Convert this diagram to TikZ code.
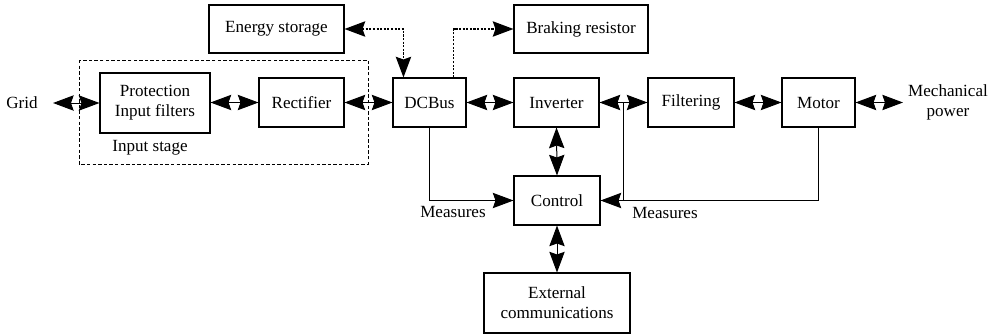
\documentclass[tikz,border=0pt]{standalone}
\usepackage{fontspec}
\setmainfont{Liberation Serif}
\newfontfamily\tnr{Liberation Serif}
\usetikzlibrary{arrows.meta,calc}
\begin{document}
\begin{tikzpicture}[x=0.75pt,y=-0.75pt,
  every node/.style={font=\tnr\fontsize{12.8}{15}\selectfont},
  box/.style={draw,line width=0.8pt,inner sep=0pt,align=center},
  conn/.style={line width=0.75pt},
  both/.style={arrows={Stealth[length=15.5pt,width=11.5pt,inset=2pt]-Stealth[length=15.5pt,width=11.5pt,inset=2pt]}},
  fwd/.style={arrows={-Stealth[length=15.5pt,width=11.5pt,inset=2pt]}},
  dotline/.style={line width=1.1pt,dash pattern=on 1.6pt off 1.1pt},
  dashbox/.style={line width=0.6pt,dash pattern=on 2.6pt off 1.6pt}]
\useasboundingbox (0,0) rectangle (1008,336);
% dashed input stage
\draw[dashbox] (79,60) rectangle (368,164);
\node at (150,148) {Input stage};
% boxes
\node[box,minimum width=101.25pt,minimum height=36pt] (es) at (276.5,29) {Energy storage};
\node[box,minimum width=100.5pt,minimum height=36pt] (br) at (581,29) {Braking resistor};
\node[box,minimum width=82.5pt,minimum height=45pt] (pr) at (155,103) {Protection\\Input filters};
\node[box,minimum width=63.75pt,minimum height=36.75pt] (re) at (301.5,102.5) {Rectifier};
\node[box,minimum width=54.75pt,minimum height=36.75pt] (dc) at (429.5,102.5) {DCBus};
\node[box,minimum width=63.75pt,minimum height=36.75pt] (in) at (556.5,102.5) {Inverter};
\node[box,minimum width=64.5pt,minimum height=36.75pt] (fi) at (691,102.5) {Filtering};
\node[box,minimum width=54.75pt,minimum height=36.75pt] (mo) at (818.5,102.5) {Motor};
\node[box,minimum width=64.5pt,minimum height=36.75pt] (co) at (557,200.5) {Control};
\node[box,minimum width=109.5pt,minimum height=45pt] (ex) at (557,303) {External\\communications};
% text labels
\node (grid) at (22,103) {Grid};
\node[align=center] (mech) at (948,102) {Mechanical\\power};
\node (ml) at (453,212) {Measures};
\node (mr) at (665,213) {Measures};
% free ends
\coordinate (gridend) at (53,103);
\coordinate (mechend) at (903,102.5);
% power chain
\draw[conn,both] (gridend) -- (pr.west);
\draw[conn,both] (pr.east |- re.west) -- (re.west);
\draw[conn,both] (re.east) -- (dc.west);
\draw[conn,both] (dc.east) -- (in.west);
\draw[conn,both] (in.east) -- (fi.west);
\draw[conn,both] (fi.east) -- (mo.west);
\draw[conn,both] (mo.east) -- (mechend);
% control
\draw[conn,both] (in.south) -- (co.north);
\draw[conn,both] (co.south) -- (ex.north);
\draw[conn,fwd] (dc.south) |- (co.west);
\coordinate (tap) at (623,102.5);
\draw[conn] (tap) -- (623,200.5);
\draw[conn,fwd] (mo.south) |- (co.east);
% dotted links
\draw[dotline,both] (es.east) -| ($(dc.north west)+(11,0)$);
\draw[dotline,fwd] ($(dc.north east)+(-13,0)$) |- (br.west);
\end{tikzpicture}
\end{document}
